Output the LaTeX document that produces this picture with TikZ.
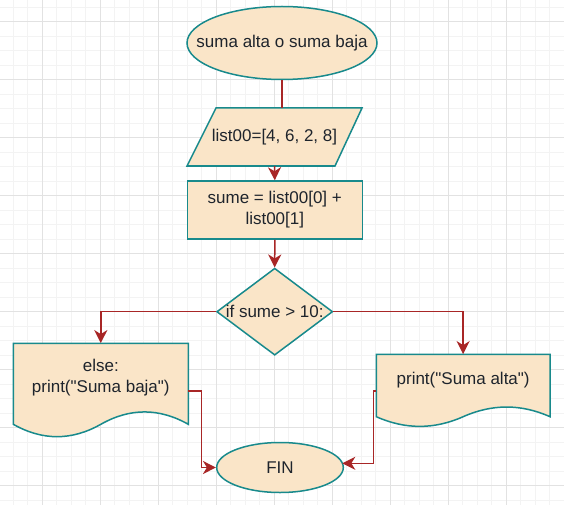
\documentclass[tikz,border=0pt]{standalone}
\usepackage{fontspec}
\setmainfont{Liberation Sans}[Ligatures=TeXOff]
\usetikzlibrary{shapes.geometric,arrows.meta}
\definecolor{fillc}{RGB}{250,229,200}
\definecolor{strokec}{RGB}{24,138,140}
\definecolor{arrowc}{RGB}{168,38,38}
\definecolor{txtc}{RGB}{30,36,44}
\definecolor{gmaj}{RGB}{226,226,226}
\definecolor{gmin}{RGB}{243,243,243}
\begin{document}
\begin{tikzpicture}[x=1pt,y=-1pt,
  shapebox/.style={draw=strokec, fill=fillc, line width=1.5pt},
  txt/.style={font=\fontsize{17}{21}\selectfont, text=txtc, align=center, inner sep=0},
  conn/.style={draw=arrowc, line width=1.5pt, -{Stealth[length=13pt,width=13pt,inset=4pt]}},
  plainline/.style={draw=arrowc, line width=1.5pt},
  gridmin/.style={draw=gmin, line width=0.8pt},
  gridmaj/.style={draw=gmaj, line width=1pt}]
\fill[white] (0,0) rectangle (564,505);
\useasboundingbox (0,0) rectangle (564,505);
% grid
\foreach \i in {0,...,39} {\draw[gridmin] ({-1.2+14.5*\i},0) -- ({-1.2+14.5*\i},505);}
\foreach \i in {0,...,35} {\draw[gridmin] (0,{7.2+14.5*\i}) -- (564,{7.2+14.5*\i});}
\foreach \i in {0,...,10} {\draw[gridmaj] ({-15.7+58*\i},0) -- ({-15.7+58*\i},505);}
\foreach \i in {0,...,8} {\draw[gridmaj] (0,{21.7+58*\i}) -- (564,{21.7+58*\i});}

% start
\node[shapebox, ellipse, minimum width=190, minimum height=73, inner sep=0] (start) at (282,43) {};
\node[txt] (starttext) at (start) {suma alta o suma baja};

% parallelogram
\node[inner sep=0, minimum width=146, minimum height=58] (para) at (274.5,137) {};
\filldraw[shapebox] (216,108) -- (362,108) -- (335,166) -- (187,166) -- cycle;
\node[txt] (paratext) at (274.5,137) {list00=[4, 6, 2, 8]};

% process
\node[shapebox, rectangle, minimum width=175, minimum height=58, inner sep=0] (calc) at (274.8,210) {};
\node[txt] (calctext) at (calc) {sume = list00[0] +\\list00[1]};

% decision
\node[shapebox, diamond, minimum width=116, minimum height=87, inner sep=0] (cond) at (274.7,311.7) {};
\node[txt] (condtext) at (cond) {if sume > 10:};

% left document
\node[inner sep=0, minimum width=175, minimum height=81] (docL) at (100.8,383.8) {};
\filldraw[shapebox] (13.3,343.3) -- (188.3,343.3) -- (188.3,424.3)
  .. controls (159.1,407.8) and (130,407.8) .. (100.8,424.3)
  .. controls (71.6,440.8) and (42.5,440.8) .. (13.3,424.3) -- cycle;
\node[txt] (docLtext) at (100.8,377.5) {else:\\print("Suma baja")};

% right document
\node[inner sep=0, minimum width=173.7, minimum height=62.4] (docR) at (463.15,385.5) {};
\filldraw[shapebox] (376.3,354.3) -- (550,354.3) -- (550,416.7)
  .. controls (521.05,403.8) and (492.1,403.8) .. (463.15,416.7)
  .. controls (434.2,429.6) and (405.25,429.6) .. (376.3,416.7) -- cycle;
\node[txt] (docRtext) at (463.15,380) {print("Suma alta")};

% end
\node[shapebox, ellipse, minimum width=126.6, minimum height=50, inner sep=0] (fin) at (280,467.5) {};
\node[txt] (fintext) at (fin) {FIN};

% connectors
\draw[plainline] (start.south) -- (start.south |- para.north);
\draw[conn] (para.south) -- (calc.north);
\draw[conn] (calc.south) -- (cond.north);
\draw[conn] (cond.west) -| (docL.north);
\draw[conn] (cond.east) -| (docR.north);
\coordinate (lout) at (188.3,391);
\draw[conn] (lout) -- (201.7,391) |- (fin.west);
\coordinate (rout) at (376.3,391);
\coordinate (rin) at (342.3,463.3);
\draw[conn] (rout) -- (373.3,391) |- (rin);
\end{tikzpicture}
\end{document}
